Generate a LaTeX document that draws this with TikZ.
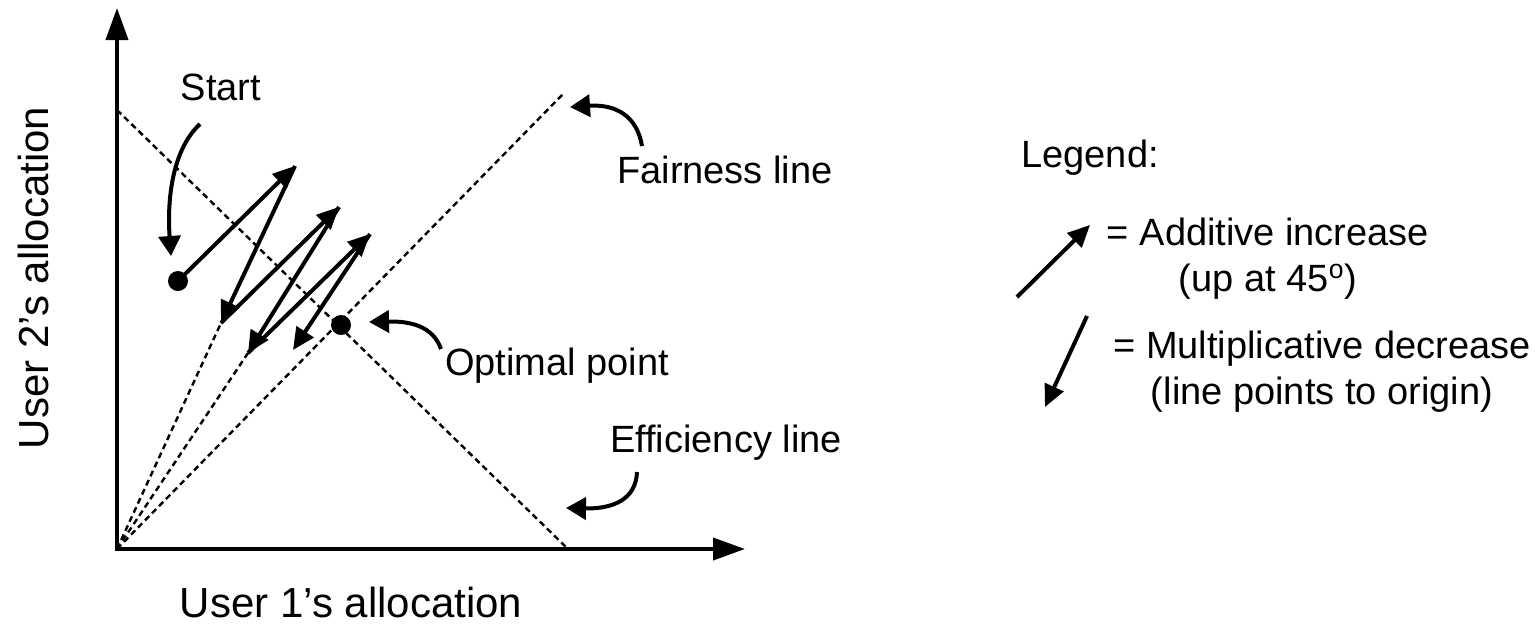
\documentclass[tikz,border=0pt]{standalone}
\usepackage{fontspec}
\setmainfont{Liberation Sans}
\usetikzlibrary{arrows.meta}
\newlength{\dotradius}
\setlength{\dotradius}{5pt}
\definecolor{inkcolor}{RGB}{0,0,0}
\tikzstyle{axis} = [draw, inkcolor, line width=2pt, line cap=rect, -{Triangle[length=16pt, width=11pt]}]
\tikzstyle{guide} = [draw, inkcolor, line width=1.2pt, dash pattern=on 3pt off 2pt]
\tikzstyle{zig} = [draw, inkcolor, line width=2pt, -{Triangle[length=11pt, width=10pt]}]
\tikzstyle{callout} = [draw, inkcolor, line width=2pt, -{Triangle[length=10pt, width=11pt]}]
\tikzstyle{legarrow} = [draw, inkcolor, line width=2pt, -{Triangle[length=11pt, width=10pt]}]
\tikzstyle{dot} = [circle, fill=inkcolor, minimum size=2\dotradius, inner sep=0]
\tikzstyle{lbl} = [inner sep=0, font=\fontsize{19}{23}\selectfont]
\tikzstyle{axislbl} = [inner sep=0, font=\fontsize{21}{25}\selectfont]
\tikzstyle{legendlbl} = [inner sep=0, align=center, font=\fontsize{19}{23}\selectfont]

\begin{document}
\begin{tikzpicture}[
		x=0.5pt, y=-0.5pt
		]
		\useasboundingbox (0,0) rectangle (1539,629);
		
		% axes and guide lines
		\coordinate (origin) at (117,549);
		\coordinate (ytop) at (117,8);
		\coordinate (xend) at (745,549);
		\coordinate (efftop) at (117,110);
		\coordinate (effend) at (567,548);
		\coordinate (fairend) at (565,92);
		
		\draw[guide] (efftop) -- (effend);
		\draw[guide] (origin) -- (fairend);
		\draw[axis] (origin) -- (ytop);
		\draw[axis] (origin) -- (xend);
		
		\node[dot] (startdot) at (178,281) {};
		\node[dot] (optdot) at (341,325) {};
		
		% zigzag: additive increase, then multiplicative decrease
		\coordinate (a1) at (295,166);
		\coordinate (m1) at (221,323);
		\coordinate (a2) at (339,207);
		\coordinate (m2) at (248,353);
		\coordinate (a3) at (370,234);
		\coordinate (m3) at (293,350);
		
		\draw[guide] (origin) -- (m1);
		\draw[guide] (origin) -- (m2);
		
		\draw[zig] (startdot.center) -- (a1);
		\draw[zig] (a1) -- (m1);
		\draw[zig] (m1) -- (a2);
		\draw[zig] (a2) -- (m2);
		\draw[zig] (m2) -- (a3);
		\draw[zig] (a3) -- (m3);
		
		% labels with their curved pointers
		\node[lbl, anchor=base] (startlbl) at (221,100) {Start};
		\coordinate (startfrom) at (200,124);
		\coordinate (startto) at (171,256);
		\draw[callout] (startfrom) .. controls (172,150) and (167,200) .. (startto);
		
		\node[lbl, anchor=base] (fairlbl) at (725,183) {Fairness line};
		\coordinate (fairfrom) at (642,146);
		\coordinate (fairto) at (570,107);
		\draw[callout] (fairfrom) .. controls (637,116) and (616,104) .. (fairto);
		
		\node[lbl, anchor=base] (optlbl) at (557,375) {Optimal point};
		\coordinate (optfrom) at (441,349);
		\coordinate (optto) at (369,322);
		\draw[callout] (optfrom) .. controls (433,326) and (410,321) .. (optto);
		
		\node[lbl, anchor=base] (efflbl) at (726,452) {Efficiency line};
		\coordinate (efffrom) at (637,472);
		\coordinate (effto) at (566,508);
		\draw[callout] (efffrom) .. controls (636,500) and (612,509) .. (effto);
		
		\node[axislbl, anchor=base] (xlbl) at (351,617) {User 1’s allocation};
		\node[axislbl, anchor=base, rotate=90] (ylbl) at (48,278) {User 2’s allocation};
		
		% legend
		\node[legendlbl, anchor=base west] (legendhead) at (1021,167) {Legend:};
		\node[legendlbl, anchor=base] (addlbl) at (1268,291) {= Additive increase\\(up at 45\textsuperscript{o})};
		\node[legendlbl, anchor=base] (mullbl) at (1322,404) {= Multiplicative decrease\\(line points to origin)};
		\coordinate (addfrom) at (1017,297);
		\coordinate (addto) at (1090,225);
		\coordinate (mulfrom) at (1087,316);
		\coordinate (multo) at (1045,407);
		\draw[legarrow] (addfrom) -- (addto);
		\draw[legarrow] (mulfrom) -- (multo);
		
	\end{tikzpicture}
\end{document}
